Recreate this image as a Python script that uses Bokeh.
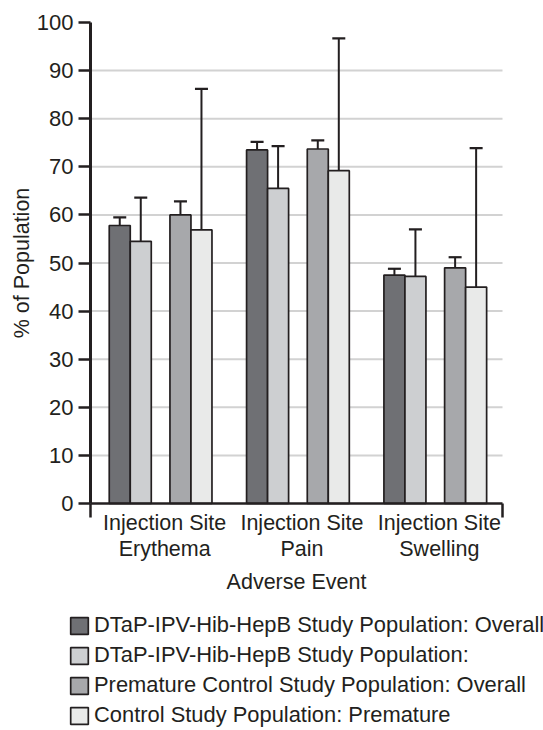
from bokeh.plotting import figure
from bokeh.models import (ColumnDataSource, FixedTicker, Whisker, TeeHead, Legend,
                          LegendItem, Range1d)
from bokeh.transform import dodge
from bokeh.embed import file_html
from bokeh.resources import INLINE

# ---------------- data ----------------
categories = ["Injection Site\nErythema", "Injection Site\nPain", "Injection Site\nSwelling"]
series_names = [
    "DTaP-IPV-Hib-HepB Study Population: Overall",
    "DTaP-IPV-Hib-HepB Study Population:",
    "Premature Control Study Population: Overall",
    "Control Study Population: Premature",
]
dtap_overall = [57.8, 73.5, 47.5]
dtap_overall_lo = [56.8, 72.8, 45.9]
dtap_overall_hi = [59.5, 75.2, 48.8]

dtap_premature = [54.5, 65.5, 47.2]
dtap_premature_lo = [44.8, 56.1, 37.9]
dtap_premature_hi = [63.6, 74.3, 57.0]

control_overall = [60.0, 73.7, 49.0]
control_overall_lo = [58.5, 72.6, 46.8]
control_overall_hi = [62.8, 75.5, 51.2]

control_premature = [56.9, 69.2, 45.0]
control_premature_lo = [42.6, 53.8, 31.0]
control_premature_hi = [86.2, 96.7, 73.9]

y_ticks = [0, 10, 20, 30, 40, 50, 60, 70, 80, 90, 100]
grid_ticks = [10, 20, 30, 40, 50, 60, 70, 80, 90]

# ---------------- style / layout ----------------
FONT = "Liberation Sans"
TXT = "#231f20"
colors = ["#6f7074", "#cdcfd1", "#a7a8ab", "#e9eae9"]
offsets = [-0.287, -0.134, 0.155, 0.308]
BAR_W = 0.153
LABEL_SHIFT = 0.04

W, H = 543, 730
# pixel box of the plotting area (axes drawn at fixed locations)
PX_L, PX_R, PX_T, PX_B = 90, 502, 22, 503
n_cat = len(categories)
Y_MIN, Y_MAX = 0, 100

ux = (PX_R - PX_L) / n_cat
uy = (PX_B - PX_T) / (Y_MAX - Y_MIN)
x_range = Range1d(-PX_L / ux, n_cat + (W - PX_R) / ux)
y_range = Range1d(Y_MIN - (H - PX_B) / uy, Y_MAX + PX_T / uy)

cat_x = [i + 0.5 for i in range(n_cat)]
label_x = [c + LABEL_SHIFT for c in cat_x]

p = figure(width=W, height=H, x_range=x_range, y_range=y_range,
           output_backend="svg", toolbar_location=None,
           min_border_left=0, min_border_right=0, min_border_top=0, min_border_bottom=0)
p.outline_line_color = None
p.background_fill_color = None
p.border_fill_color = None

# grid lines (only across the category span)
p.segment(x0=0, x1=n_cat, y0=grid_ticks, y1=grid_ticks, line_color="#d2d2d2",
          line_width=2, level="underlay")

series = [
    (dtap_overall, dtap_overall_lo, dtap_overall_hi),
    (dtap_premature, dtap_premature_lo, dtap_premature_hi),
    (control_overall, control_overall_lo, control_overall_hi),
    (control_premature, control_premature_lo, control_premature_hi),
]

renderers = []
for k, (vals, lo, hi) in enumerate(series):
    src = ColumnDataSource(dict(x=cat_x, top=vals, lower=lo, upper=hi))
    r = p.vbar(x=dodge("x", offsets[k]), top="top", bottom=0, width=BAR_W, source=src,
               fill_color=colors[k], line_color=TXT, line_width=1.7)
    renderers.append(r)
    w = Whisker(base=dodge("x", offsets[k]), lower="lower", upper="upper", source=src,
                line_color=TXT, line_width=2,
                upper_head=TeeHead(size=13, line_color=TXT, line_width=2.2),
                lower_head=TeeHead(size=13, line_color=TXT, line_width=2.2))
    p.add_layout(w)

p.xgrid.visible = False
p.ygrid.visible = False

# y axis
yax = p.yaxis[0]
yax.fixed_location = 0
yax.bounds = (Y_MIN, Y_MAX)
yax.ticker = FixedTicker(ticks=y_ticks)
yax.axis_label = "% of Population"
yax.axis_label_text_font = FONT
yax.axis_label_text_font_size = "21.5px"
yax.axis_label_text_font_style = "normal"
yax.axis_label_text_color = TXT
yax.axis_label_standoff = 0
yax.major_label_text_font = FONT
yax.major_label_text_font_size = "22px"
yax.major_label_text_color = TXT
yax.major_label_standoff = 5
yax.axis_line_width = 3
yax.axis_line_color = TXT
yax.major_tick_line_width = 2.5
yax.major_tick_line_color = TXT
yax.major_tick_out = 12
yax.major_tick_in = 0
yax.minor_tick_line_color = None

# x axis
xax = p.xaxis[0]
xax.fixed_location = 0
xax.bounds = (0, n_cat)
xax.ticker = FixedTicker(ticks=label_x, minor_ticks=[0, n_cat])
xax.major_label_overrides = {x: c for x, c in zip(label_x, categories)}
xax.axis_label = "Adverse Event"
xax.axis_label_text_font = FONT
xax.axis_label_text_font_size = "21.5px"
xax.axis_label_text_font_style = "normal"
xax.axis_label_text_color = TXT
xax.axis_label_standoff = 6
xax.major_label_text_font = FONT
xax.major_label_text_font_size = "21.5px"
xax.major_label_text_line_height = 1.1
xax.major_label_text_color = TXT
xax.major_label_standoff = -7
xax.axis_line_width = 2.5
xax.axis_line_color = TXT
xax.major_tick_line_color = None
xax.major_tick_out = 0
xax.major_tick_in = 0
xax.minor_tick_line_color = TXT
xax.minor_tick_line_width = 2.5
xax.minor_tick_out = 14
xax.minor_tick_in = 0

legend = Legend(items=[LegendItem(label=n, renderers=[r]) for n, r in zip(series_names, renderers)],
                location=(68, 2), orientation="vertical",
                glyph_width=22, glyph_height=21, label_height=21, spacing=4,
                label_standoff=4, padding=0, margin=0,
                border_line_color=None, background_fill_color=None,
                label_text_font=FONT, label_text_font_size="21.9px", label_text_color=TXT)
p.add_layout(legend, "center")

open("out.html", "w").write(file_html(p, INLINE))
